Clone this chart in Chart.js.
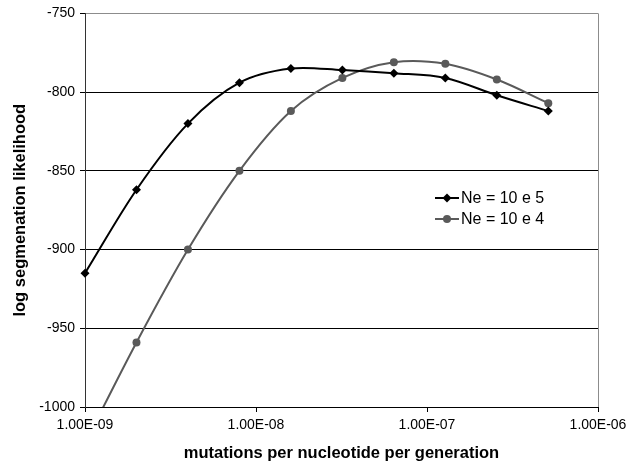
<!DOCTYPE html>
<html>
<head>
<meta charset="utf-8">
<script src="https://cdn.jsdelivr.net/npm/chart.js"></script>
<style>
  body { margin: 0; background: #fff; }
  canvas { display: block; }
</style>
</head>
<body>
<canvas id="likelihood-chart" width="641" height="464"></canvas>
<script>
// mutation rate (x), doubling steps
var mutationRates = [1e-9, 2e-9, 4e-9, 8e-9, 1.6e-8, 3.2e-8, 6.4e-8, 1.28e-7, 2.56e-7, 5.12e-7];
// log segmentation likelihood per series
var ne10e5 = [-915, -862, -820, -794, -785, -786, -788, -791, -802, -812];
var ne10e4 = [-1023, -959, -900, -850, -812, -791, -781, -782, -792, -807];
var seriesLabels = ["Ne = 10 e 5", "Ne = 10 e 4"];
var xTicks = [1e-9, 1e-8, 1e-7, 1e-6];
var yTicks = [-1000, -950, -900, -850, -800, -750];

var FONT = "'Liberation Sans', Arial, sans-serif";

function toPoints(xs, ys) {
    var pts = [];
    for (var i = 0; i < xs.length; i++) {
        pts.push({x: xs[i], y: ys[i]});
    }
    return pts;
}

function sciLabel(v) {
    var e = Math.round(Math.log10(v));
    var m = v / Math.pow(10, e);
    var exp = Math.abs(e) < 10 ? "0" + Math.abs(e) : "" + Math.abs(e);
    return m.toFixed(2) + "E" + (e < 0 ? "-" : "+") + exp;
}

// right border of the plot area + legend drawn inside it
var plotExtras = {
    id: 'plotExtras',
    afterDatasetsDraw: function(chart) {
        var ctx = chart.ctx;
        var a = chart.chartArea;
        ctx.save();
        ctx.strokeStyle = '#8c8c8c';
        ctx.lineWidth = 1;
        ctx.beginPath();
        ctx.moveTo(Math.round(a.right) + 0.5, a.top);
        ctx.lineTo(Math.round(a.right) + 0.5, a.bottom);
        ctx.stroke();

        var rowY = [198, 219];
        chart.data.datasets.forEach(function(ds, i) {
            var y = rowY[i];
            ctx.strokeStyle = ds.borderColor;
            ctx.lineWidth = 2;
            ctx.beginPath();
            ctx.moveTo(435, y);
            ctx.lineTo(459, y);
            ctx.stroke();
            ctx.fillStyle = ds.borderColor;
            ctx.beginPath();
            if (ds.pointStyle === 'rectRot') {
                ctx.moveTo(447, y - 4.5);
                ctx.lineTo(451.5, y);
                ctx.lineTo(447, y + 4.5);
                ctx.lineTo(442.5, y);
                ctx.closePath();
            } else {
                ctx.arc(447, y, 4, 0, Math.PI * 2);
            }
            ctx.fill();
            ctx.fillStyle = '#000';
            ctx.font = "16px " + FONT;
            ctx.textBaseline = 'middle';
            ctx.textAlign = 'left';
            ctx.fillText(ds.label, 461, y + 1);
        });
        ctx.restore();
    }
};

new Chart(document.getElementById("likelihood-chart"), {
    type: 'line',
    data: {
        datasets: [
            {
                label: seriesLabels[0],
                data: toPoints(mutationRates, ne10e5),
                borderColor: '#000000',
                backgroundColor: '#000000',
                borderWidth: 2,
                pointStyle: 'rectRot',
                pointRadius: 4.5,
                pointBorderWidth: 0,
                tension: 0.33,
                fill: false,
                clip: {left: 6, top: 0, right: 0, bottom: 0}
            },
            {
                label: seriesLabels[1],
                data: toPoints(mutationRates, ne10e4),
                borderColor: '#5a5a5a',
                backgroundColor: '#5a5a5a',
                borderWidth: 2,
                pointStyle: 'circle',
                pointRadius: 4,
                pointBorderWidth: 0,
                tension: 0.33,
                fill: false,
                clip: {left: 6, top: 0, right: 0, bottom: 0}
            }
        ]
    },
    options: {
        responsive: false,
        animation: false,
        events: [],
        layout: { padding: { left: 0, right: 43, top: 12, bottom: 0 } },
        plugins: {
            legend: { display: false },
            tooltip: { enabled: false }
        },
        scales: {
            x: {
                type: 'logarithmic',
                min: 1e-9,
                max: 1e-6,
                afterBuildTicks: function(scale) {
                    scale.ticks = xTicks.map(function(v) { return {value: v, major: true}; });
                },
                afterFit: function(scale) { scale.height = 57; },
                grid: { drawOnChartArea: false, drawTicks: true, tickLength: 5, color: '#000' },
                border: { display: true, color: '#000', width: 1 },
                ticks: {
                    autoSkip: false,
                    maxRotation: 0,
                    padding: 5,
                    color: '#000',
                    font: { family: FONT, size: 14 },
                    callback: function(v) { return sciLabel(v); }
                },
                title: {
                    display: true,
                    text: 'mutations per nucleotide per generation',
                    color: '#000',
                    font: { family: FONT, size: 16.5, weight: 'bold', lineHeight: 1.2 },
                    padding: { top: 0, bottom: 1 }
                }
            },
            y: {
                min: -1000,
                max: -750,
                afterBuildTicks: function(scale) {
                    scale.ticks = yTicks.map(function(v) { return {value: v}; });
                },
                afterFit: function(scale) { scale.width = 85; },
                grid: {
                    drawTicks: true,
                    tickLength: 5,
                    tickColor: '#000',
                    color: function(c) { return c.tick && c.tick.value === -750 ? '#8c8c8c' : '#000'; }
                },
                border: { display: true, color: '#333', width: 1 },
                ticks: {
                    padding: 5,
                    color: '#000',
                    font: { family: FONT, size: 14 },
                    callback: function(v) { return String(v); }
                },
                title: {
                    display: true,
                    text: 'log segmenation likelihood',
                    color: '#000',
                    font: { family: FONT, size: 16.5, weight: 'bold', lineHeight: 1.2 },
                    padding: { top: 11, bottom: 0 }
                }
            }
        }
    },
    plugins: [plotExtras]
});
</script>
</body>
</html>
